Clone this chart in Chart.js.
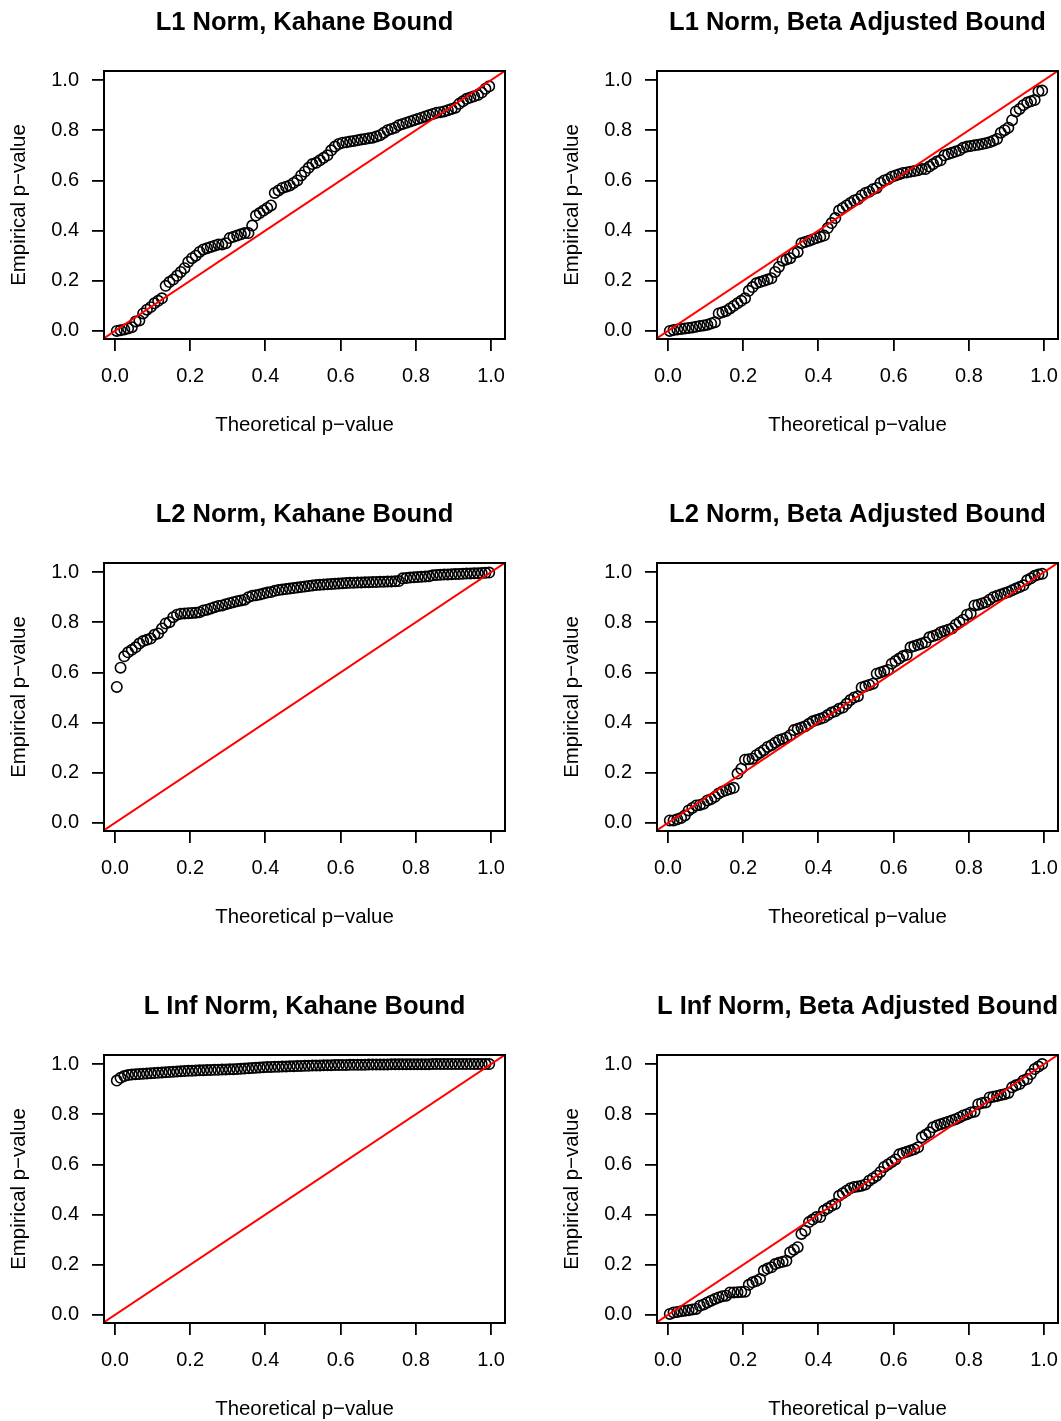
<!DOCTYPE html>
<html>
<head>
<meta charset="utf-8">
<script src="https://cdn.jsdelivr.net/npm/chart.js@4.4.1/dist/chart.umd.min.js"></script>
<style>
  html, body { margin: 0; padding: 0; background: #fff; overflow: hidden; }
  #page { position: relative; width: 1061px; height: 1421px; overflow: hidden; }
  canvas { position: absolute; }
</style>
</head>
<body>
<div id="page">
  <canvas id="c1" width="530" height="437" style="left:0;top:0"></canvas>
  <canvas id="c2" width="530" height="437" style="left:553px;top:0"></canvas>
  <canvas id="c3" width="530" height="437" style="left:0;top:492px"></canvas>
  <canvas id="c4" width="530" height="437" style="left:553px;top:492px"></canvas>
  <canvas id="c5" width="530" height="437" style="left:0;top:984px"></canvas>
  <canvas id="c6" width="530" height="437" style="left:553px;top:984px"></canvas>
</div>
<script>
const titles = [
    "L1 Norm, Kahane Bound", "L1 Norm, Beta Adjusted Bound",
    "L2 Norm, Kahane Bound", "L2 Norm, Beta Adjusted Bound",
    "L Inf Norm, Kahane Bound", "L Inf Norm, Beta Adjusted Bound"
];
const xLabel = "Theoretical p\u2212value";
const yLabel = "Empirical p\u2212value";
const tickVals = [0, 0.2, 0.4, 0.6, 0.8, 1.0];

// sorted empirical p-values
const l1Kahane = [
    0.000, 0.003, 0.006, 0.010, 0.015, 0.038, 0.042, 0.070, 0.085, 0.095,
    0.110, 0.120, 0.130, 0.180, 0.195, 0.205, 0.220, 0.235, 0.250, 0.275,
    0.290, 0.300, 0.315, 0.325, 0.330, 0.335, 0.340, 0.345, 0.345, 0.350,
    0.370, 0.375, 0.380, 0.385, 0.390, 0.390, 0.420, 0.460, 0.470, 0.480,
    0.490, 0.500, 0.550, 0.560, 0.570, 0.575, 0.580, 0.590, 0.600, 0.620,
    0.635, 0.650, 0.665, 0.670, 0.680, 0.690, 0.700, 0.720, 0.735, 0.745,
    0.750, 0.752, 0.755, 0.757, 0.760, 0.763, 0.765, 0.768, 0.770, 0.775,
    0.780, 0.790, 0.800, 0.805, 0.810, 0.820, 0.825, 0.830, 0.835, 0.840,
    0.845, 0.850, 0.855, 0.860, 0.865, 0.870, 0.872, 0.875, 0.880, 0.885,
    0.890, 0.905, 0.915, 0.925, 0.930, 0.935, 0.940, 0.950, 0.965, 0.975
];
const l1Beta = [
    0.000, 0.004, 0.006, 0.008, 0.010, 0.012, 0.014, 0.017, 0.020, 0.022,
    0.025, 0.030, 0.035, 0.070, 0.075, 0.080, 0.090, 0.100, 0.110, 0.120,
    0.130, 0.160, 0.175, 0.190, 0.195, 0.200, 0.205, 0.210, 0.235, 0.255,
    0.280, 0.285, 0.290, 0.310, 0.315, 0.350, 0.355, 0.360, 0.365, 0.370,
    0.375, 0.380, 0.410, 0.430, 0.450, 0.480, 0.490, 0.500, 0.510, 0.520,
    0.525, 0.540, 0.550, 0.555, 0.565, 0.570, 0.590, 0.600, 0.605, 0.615,
    0.620, 0.625, 0.630, 0.632, 0.635, 0.637, 0.640, 0.645, 0.645, 0.655,
    0.665, 0.675, 0.680, 0.700, 0.705, 0.710, 0.715, 0.720, 0.730, 0.735,
    0.737, 0.740, 0.742, 0.745, 0.748, 0.752, 0.758, 0.765, 0.790, 0.800,
    0.810, 0.840, 0.875, 0.885, 0.900, 0.910, 0.915, 0.920, 0.955, 0.958
];
const l2Kahane = [
    0.542, 0.619, 0.664, 0.680, 0.690, 0.700, 0.715, 0.725, 0.730, 0.735,
    0.750, 0.755, 0.775, 0.795, 0.800, 0.820, 0.830, 0.834, 0.835, 0.836,
    0.837, 0.838, 0.840, 0.847, 0.850, 0.855, 0.860, 0.865, 0.867, 0.872,
    0.876, 0.880, 0.884, 0.887, 0.890, 0.900, 0.905, 0.907, 0.910, 0.914,
    0.918, 0.920, 0.925, 0.928, 0.930, 0.932, 0.934, 0.936, 0.938, 0.940,
    0.942, 0.944, 0.946, 0.948, 0.949, 0.950, 0.951, 0.952, 0.953, 0.954,
    0.955, 0.956, 0.957, 0.957, 0.958, 0.958, 0.959, 0.959, 0.960, 0.960,
    0.961, 0.961, 0.962, 0.962, 0.963, 0.964, 0.975, 0.976, 0.978, 0.979,
    0.980, 0.981, 0.982, 0.983, 0.987, 0.988, 0.989, 0.990, 0.990, 0.991,
    0.992, 0.992, 0.993, 0.994, 0.994, 0.995, 0.995, 0.996, 0.997, 0.998
];
const l2Beta = [
    0.010, 0.010, 0.015, 0.020, 0.030, 0.050, 0.060, 0.070, 0.072, 0.077,
    0.090, 0.095, 0.104, 0.117, 0.125, 0.130, 0.135, 0.140, 0.197, 0.216,
    0.252, 0.254, 0.256, 0.270, 0.280, 0.290, 0.303, 0.310, 0.320, 0.330,
    0.335, 0.340, 0.350, 0.370, 0.375, 0.380, 0.385, 0.395, 0.405, 0.410,
    0.415, 0.420, 0.430, 0.440, 0.445, 0.455, 0.460, 0.475, 0.490, 0.500,
    0.505, 0.540, 0.545, 0.550, 0.555, 0.595, 0.600, 0.605, 0.610, 0.635,
    0.645, 0.655, 0.665, 0.670, 0.700, 0.705, 0.710, 0.715, 0.720, 0.740,
    0.745, 0.750, 0.760, 0.765, 0.770, 0.775, 0.790, 0.800, 0.810, 0.830,
    0.835, 0.867, 0.870, 0.875, 0.880, 0.890, 0.900, 0.905, 0.910, 0.915,
    0.920, 0.927, 0.934, 0.940, 0.947, 0.967, 0.975, 0.985, 0.990, 0.993
];
const lInfKahane = [
    0.934, 0.945, 0.952, 0.956, 0.958, 0.959, 0.960, 0.961, 0.962, 0.963,
    0.964, 0.965, 0.966, 0.967, 0.968, 0.969, 0.970, 0.971, 0.972, 0.973,
    0.973, 0.974, 0.975, 0.975, 0.976, 0.976, 0.977, 0.977, 0.978, 0.978,
    0.979, 0.979, 0.980, 0.981, 0.982, 0.983, 0.984, 0.985, 0.986, 0.987,
    0.988, 0.988, 0.989, 0.989, 0.990, 0.990, 0.991, 0.991, 0.992, 0.992,
    0.993, 0.993, 0.994, 0.994, 0.994, 0.995, 0.995, 0.995, 0.996, 0.996,
    0.996, 0.996, 0.997, 0.997, 0.997, 0.997, 0.997, 0.998, 0.998, 0.998,
    0.998, 0.998, 0.998, 0.999, 0.999, 0.999, 0.999, 0.999, 0.999, 0.999,
    0.999, 0.999, 0.999, 0.999, 1.000, 1.000, 1.000, 1.000, 1.000, 1.000,
    1.000, 1.000, 1.000, 1.000, 1.000, 1.000, 1.000, 1.000, 1.000, 1.000
];
const lInfBeta = [
    0.004, 0.010, 0.012, 0.015, 0.017, 0.019, 0.022, 0.024, 0.037, 0.042,
    0.050, 0.057, 0.064, 0.070, 0.075, 0.077, 0.090, 0.090, 0.091, 0.092,
    0.093, 0.120, 0.130, 0.135, 0.143, 0.177, 0.185, 0.190, 0.203, 0.208,
    0.212, 0.216, 0.250, 0.260, 0.270, 0.323, 0.336, 0.370, 0.380, 0.390,
    0.390, 0.416, 0.425, 0.435, 0.442, 0.475, 0.485, 0.495, 0.505, 0.510,
    0.512, 0.515, 0.520, 0.535, 0.545, 0.555, 0.570, 0.590, 0.600, 0.610,
    0.620, 0.640, 0.645, 0.650, 0.655, 0.660, 0.668, 0.708, 0.718, 0.728,
    0.748, 0.755, 0.760, 0.765, 0.770, 0.775, 0.780, 0.787, 0.795, 0.800,
    0.807, 0.810, 0.840, 0.845, 0.847, 0.867, 0.870, 0.873, 0.877, 0.880,
    0.885, 0.907, 0.915, 0.920, 0.934, 0.940, 0.960, 0.980, 0.990, 1.000
];

const series = [l1Kahane, l1Beta, l2Kahane, l2Beta, lInfKahane, lInfBeta];

// plot ranges as R laid them out (a few % past 0 and 1)
const xMin = -0.029, xMax = 1.037;
const yMin = -0.032, yMax = 1.036;
const FONT = '"Liberation Sans", Arial, Helvetica, sans-serif';

// theoretical quantiles, like R's ppoints()
function ppoints(n) {
    const out = [];
    for (let i = 1; i <= n; i++) out.push((i - 0.5) / n);
    return out;
}

const boxPlugin = {
    id: 'box',
    afterDraw(chart) {
        const a = chart.chartArea;
        const ctx = chart.ctx;
        ctx.save();
        ctx.strokeStyle = '#000';
        ctx.lineWidth = 2;
        ctx.strokeRect(a.left, a.top, a.right - a.left, a.bottom - a.top);
        ctx.restore();
    }
};

function axisOpts(isX) {
    return {
        type: 'linear',
        min: isX ? xMin : yMin,
        max: isX ? xMax : yMax,
        afterBuildTicks: s => { s.ticks = tickVals.map(v => ({ value: v })); },
        afterFit: s => { if (isX) s.height = 98; else s.width = 104; },
        grid: { drawOnChartArea: false, drawTicks: true, tickLength: 12, color: '#000', lineWidth: 1.8 },
        border: { display: true, color: '#000', width: 2 },
        ticks: {
            autoSkip: false, maxRotation: 0, minRotation: 0,
            padding: 13,
            color: '#000',
            font: { family: FONT, size: 20 },
            callback: v => v.toFixed(1)
        },
        title: {
            display: true,
            text: isX ? xLabel : yLabel,
            color: '#000',
            font: { family: FONT, size: 20.4 },
            padding: isX ? { top: 0, bottom: -1 } : { top: 7, bottom: 0 }
        }
    };
}

series.forEach((vals, k) => {
    const canvas = document.getElementById('c' + (k + 1));
    const qx = ppoints(vals.length);
    new Chart(canvas, {
        type: 'scatter',
        data: {
            datasets: [
                {
                    // abline(0, 1) across the whole plot region
                    type: 'line',
                    data: [{ x: Math.min(xMin, yMin), y: Math.min(xMin, yMin) },
                           { x: Math.max(xMax, yMax), y: Math.max(xMax, yMax) }],
                    borderColor: '#ff0000',
                    borderWidth: 1.9,
                    pointRadius: 0,
                    order: 0
                },
                {
                    data: vals.map((v, i) => ({ x: qx[i], y: v })),
                    pointStyle: 'circle',
                    pointRadius: 5.2,
                    pointBorderWidth: 1.6,
                    borderColor: '#000',
                    backgroundColor: 'rgba(0,0,0,0)',
                    pointBorderColor: '#000',
                    pointBackgroundColor: 'rgba(0,0,0,0)',
                    order: 1
                }
            ]
        },
        options: {
            responsive: false,
            animation: false,
            devicePixelRatio: 1,
            layout: { padding: { left: 0, top: 0, bottom: 0, right: 25 } },
            scales: { x: axisOpts(true), y: axisOpts(false) },
            plugins: {
                legend: { display: false },
                tooltip: { enabled: false },
                title: {
                    display: true,
                    text: titles[k],
                    fullSize: false,
                    color: '#000',
                    font: { family: FONT, size: 25.5, weight: 'bold' },
                    padding: { top: 7.7, bottom: 32.7 }
                }
            }
        },
        plugins: [boxPlugin]
    });
});
</script>
</body>
</html>
